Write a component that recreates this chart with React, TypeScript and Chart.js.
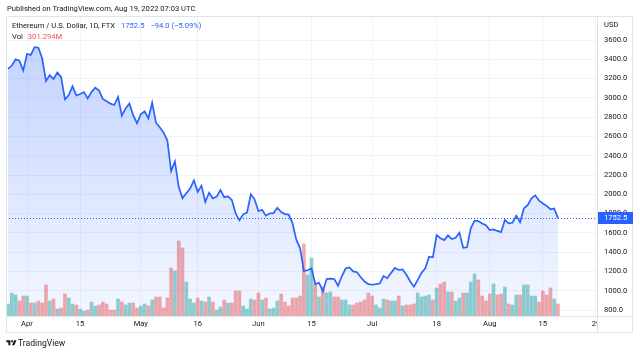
import React, { useEffect, useRef } from 'react';
import { Chart, registerables } from 'chart.js';

Chart.register(...registerables);

const FONT = 'Roboto, "Liberation Sans", Arial, sans-serif';
const TEXT = '#131722';
const BLUE = '#2962FF';

// Daily series, first entry = Mar 27 2022, last entry = Aug 19 2022
const closes: number[] = [
  3300, 3335, 3400, 3385, 3282,
  3455, 3445, 3525, 3520, 3410, 3175, 3235, 3195, 3262, 3215,
  2985, 3030, 3120, 3025, 3040, 3060, 2995, 3060, 3105, 3075,
  2988, 2965, 2940, 2926, 3010, 2815, 2890, 2940, 2820, 2735,
  2830, 2860, 2788, 2950, 2742, 2695, 2640, 2560, 2240, 2340,
  2075, 1960, 2010, 2060, 2145, 2025, 2090, 1920, 2016, 1958,
  1975, 2044, 1970, 1978, 1940, 1802, 1730, 1792, 1810, 2000,
  1948, 1826, 1837, 1778, 1802, 1805, 1860, 1815, 1795, 1790,
  1700, 1530, 1440, 1205, 1212, 1232, 1069, 1083, 993, 1121,
  1125, 1122, 1052, 1150, 1230, 1242, 1200, 1192, 1140, 1095,
  1068, 1062, 1068, 1075, 1152, 1130, 1185, 1236, 1215, 1220,
  1168, 1098, 1041, 1110, 1185, 1232, 1352, 1346, 1577, 1545,
  1525, 1574, 1536, 1548, 1601, 1446, 1450, 1647, 1726, 1722,
  1697, 1680, 1630, 1636, 1620, 1608, 1733, 1698, 1705, 1778,
  1709, 1855, 1888, 1958, 1989, 1935, 1905, 1880, 1845, 1852,
  1752.5,
];

// Volume in millions, same days
const volumesM: number[] = [
  300, 575, 525, 375, 500,
  500, 325, 325, 375, 325, 775, 375, 425, 175, 200,
  550, 450, 300, 275, 175, 125, 150, 350, 250, 275,
  350, 300, 150, 150, 425, 350, 275, 325, 325, 200,
  250, 300, 250, 400, 475, 475, 200, 450, 1200, 1125,
  1875, 1700, 850, 425, 325, 450, 375, 350, 475, 350,
  150, 225, 400, 325, 325, 625, 625, 250, 175, 425,
  400, 575, 400, 450, 175, 200, 375, 550, 350, 250,
  450, 450, 500, 1800, 1025, 1450, 800, 475, 725, 575,
  600, 475, 475, 400, 400, 275, 275, 325, 350, 400,
  575, 500, 275, 200, 425, 400, 375, 375, 500, 250,
  275, 275, 300, 575, 475, 500, 525, 400, 700, 800,
  850, 600, 600, 375, 450, 575, 575, 850, 1050, 900,
  500, 375, 550, 800, 525, 550, 725, 300, 275, 525,
  525, 775, 775, 500, 500, 350, 625, 525, 700, 425,
  301.294,
];

// 1 = up day (teal), 0 = down day (red)
const volumeUp: number[] = [
  1, 1, 1, 0, 0,
  1, 0, 1, 0, 0, 0, 1, 0, 1, 0,
  0, 1, 1, 0, 1, 1, 0, 1, 1, 0,
  0, 0, 0, 0, 1, 0, 1, 1, 0, 0,
  1, 1, 0, 1, 0, 0, 0, 0, 0, 1,
  0, 0, 1, 1, 1, 0, 1, 0, 1, 0,
  1, 1, 0, 1, 0, 0, 0, 1, 1, 1,
  0, 0, 1, 0, 1, 1, 1, 0, 0, 0,
  0, 0, 0, 0, 1, 1, 0, 1, 0, 1,
  1, 0, 0, 1, 1, 1, 0, 0, 0, 0,
  0, 0, 1, 1, 1, 0, 1, 1, 0, 1,
  0, 0, 0, 1, 1, 1, 1, 0, 1, 0,
  0, 1, 0, 1, 1, 0, 1, 1, 1, 0,
  0, 0, 0, 1, 0, 0, 1, 0, 1, 1,
  0, 1, 1, 1, 1, 0, 0, 0, 0, 1,
  0,
];

const xTickIndex: number[] = [5, 19, 35, 50, 66, 80, 96, 113, 127, 141, 155];
const xTickLabels: string[] = ['Apr', '15', 'May', '16', 'Jun', '15', 'Jul', '18', 'Aug', '15', '29'];
const yTicks: number[] = [800, 1000, 1200, 1400, 1600, 1800, 2000, 2200, 2400, 2600, 2800, 3000, 3200, 3400, 3600];
const lastPrice = 1752.5;

export default function App() {
  const ref = useRef<HTMLCanvasElement>(null);

  useEffect(() => {
    const canvas = ref.current;
    if (!canvas) return;

    const linePts = closes.map((v, i) => ({ x: i, y: v }));
    const volPts = volumesM.map((v, i) => ({ x: i, y: v }));
    const volColors = volumeUp.map((u) => (u ? 'rgba(38,166,154,0.5)' : 'rgba(239,83,80,0.5)'));

    const decor = {
      id: 'decor',
      beforeDraw(chart: any) {
        const c = chart.ctx;
        c.save();
        c.fillStyle = '#ffffff';
        c.fillRect(0, 0, chart.width, chart.height);
        c.restore();
      },
      afterDatasetsDraw(chart: any) {
        const c = chart.ctx;
        const a = chart.chartArea;
        const y = Math.round(chart.scales.y.getPixelForValue(lastPrice)) + 0.5;
        c.save();
        c.strokeStyle = BLUE;
        c.lineWidth = 1;
        c.setLineDash([1, 2]);
        c.beginPath();
        c.moveTo(a.left, y);
        c.lineTo(a.right, y);
        c.stroke();
        c.restore();
      },
      afterDraw(chart: any) {
        const c = chart.ctx;
        const a = chart.chartArea;
        c.save();
        c.fillStyle = '#ffffff';
        c.fillRect(a.right + 1, a.bottom + 1, 40, 15);
        c.strokeStyle = '#e0e3eb';
        c.lineWidth = 1;
        c.strokeRect(a.left + 0.5, a.top + 0.5, 633 - a.left - 1, 332 - a.top);
        c.beginPath();
        c.moveTo(a.right + 0.5, a.top);
        c.lineTo(a.right + 0.5, 332);
        c.moveTo(a.left, a.bottom + 0.5);
        c.lineTo(633, a.bottom + 0.5);
        c.stroke();
        const y = chart.scales.y.getPixelForValue(lastPrice);
        c.fillStyle = BLUE;
        c.fillRect(a.right + 1, Math.round(y) - 6, 35, 12);
        c.fillStyle = '#ffffff';
        c.font = `7.6px ${FONT}`;
        c.textAlign = 'left';
        c.textBaseline = 'middle';
        c.fillText(lastPrice.toFixed(1), a.right + 7, Math.round(y) + 0.5);
        c.restore();
      },
    };

    const chart = new Chart(canvas, {
      type: 'line',
      data: {
        datasets: [
          {
            type: 'line',
            data: linePts,
            yAxisID: 'y',
            borderColor: BLUE,
            borderWidth: 1.7,
            pointRadius: 0,
            tension: 0,
            fill: 'start',
            order: 0,
            backgroundColor: (ctx: any) => {
              const area = ctx.chart.chartArea;
              if (!area) return 'rgba(41,98,255,0.15)';
              const g = ctx.chart.ctx.createLinearGradient(0, area.top + 24, 0, area.bottom);
              g.addColorStop(0, 'rgba(41,98,255,0.28)');
              g.addColorStop(1, 'rgba(41,98,255,0.05)');
              return g;
            },
          } as any,
          {
            type: 'bar',
            data: volPts,
            yAxisID: 'y2',
            backgroundColor: volColors,
            borderWidth: 0,
            barThickness: 3,
            order: 1,
          } as any,
        ],
      },
      options: {
        responsive: false,
        animation: false,
        devicePixelRatio: 1,
        layout: { padding: { left: 6, right: 7, top: 16, bottom: 24 } },
        plugins: { legend: { display: false }, tooltip: { enabled: false } },
        scales: {
          x: {
            type: 'linear',
            position: 'bottom',
            offset: false,
            min: -0.54,
            max: 155.28,
            afterFit: (s: any) => { s.height = 16; },
            afterBuildTicks: (s: any) => { s.ticks = xTickIndex.map((v) => ({ value: v })); },
            grid: { color: '#f0f3fa', drawTicks: false, offset: false },
            border: { display: false },
            ticks: {
              autoSkip: false,
              maxRotation: 0,
              padding: 4,
              color: TEXT,
              font: { size: 7.6, family: FONT },
              callback: (v: any) => {
                const k = xTickIndex.indexOf(Number(v));
                return k >= 0 ? xTickLabels[k] : '';
              },
            },
          },
          y: {
            type: 'linear',
            position: 'right',
            min: 737.8,
            max: 3848.9,
            afterFit: (s: any) => { s.width = 36; },
            afterBuildTicks: (s: any) => { s.ticks = yTicks.map((v) => ({ value: v })); },
            grid: { color: '#f0f3fa', drawTicks: false },
            border: { display: false },
            ticks: {
              padding: 7,
              color: TEXT,
              font: { size: 7.6, family: FONT },
              callback: (v: any) => Number(v).toFixed(1),
            },
          },
          y2: {
            type: 'linear',
            display: false,
            min: 0,
            max: 7500,
          },
        },
      } as any,
      plugins: [decor],
    });

    return () => chart.destroy();
  }, []);

  const txt: React.CSSProperties = {
    position: 'absolute',
    whiteSpace: 'nowrap',
    fontSize: '7.6px',
    lineHeight: '10px',
    color: TEXT,
    fontFamily: FONT,
  };

  return (
    <div style={{ position: 'absolute', left: 0, top: 0, width: 640, height: 356, background: '#fff', overflow: 'hidden' }}>
      <canvas ref={ref} width={640} height={356} style={{ position: 'absolute', left: 0, top: 0 }} />
      <div style={{ ...txt, left: 7, top: 4 }}>Published on TradingView.com, Aug 19, 2022 07:03 UTC</div>
      <div style={{ ...txt, left: 12, top: 21 }}>
        Ethereum / U.S. Dollar, 1D, FTX
        <span style={{ color: BLUE, marginLeft: 6 }}>1752.5</span>
        <span style={{ color: BLUE, marginLeft: 6 }}>−94.0 (−5.09%)</span>
      </div>
      <div style={{ ...txt, left: 12, top: 32 }}>
        Vol
        <span style={{ color: '#ef5350', marginLeft: 5 }}>301.294M</span>
      </div>
      <div style={{ ...txt, left: 604, top: 20 }}>USD</div>
      <svg width="11" height="8" viewBox="0 0 36 28" style={{ position: 'absolute', left: 6, top: 339 }}>
        <path d="M14 22H7V11H0V4h14v18zM28 22h-8l7.5-18h8L28 22z" fill={TEXT} />
        <circle cx="20" cy="8" r="4" fill={TEXT} />
      </svg>
      <div style={{ ...txt, left: 18, top: 338, fontSize: '8.6px' }}>TradingView</div>
    </div>
  );
}
